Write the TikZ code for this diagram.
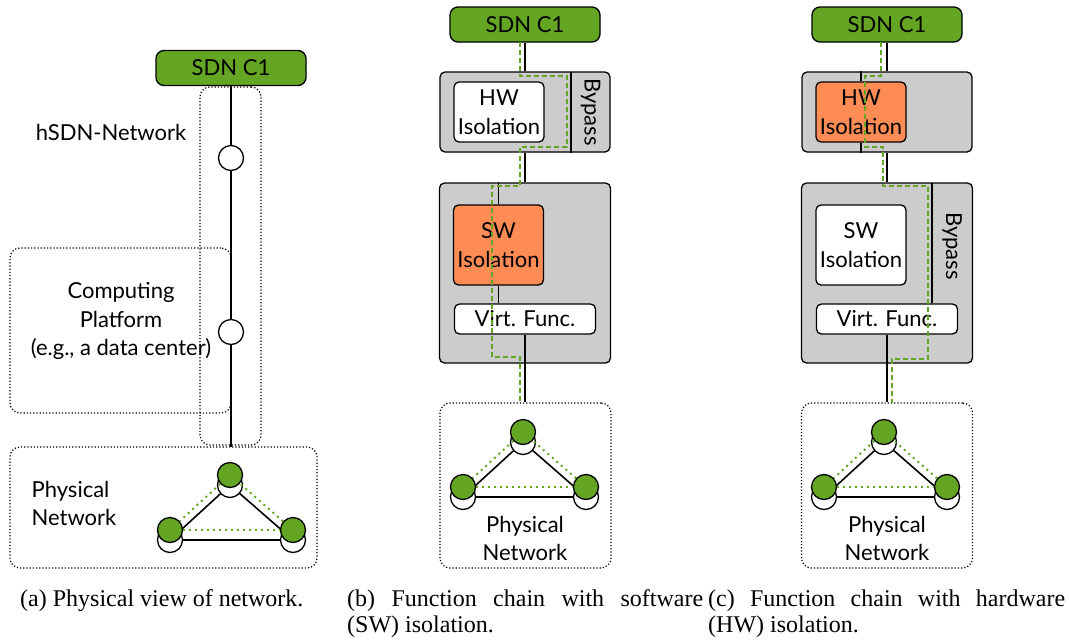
\documentclass[tikz,border=0pt]{standalone}
\usepackage{fontspec}
\setmainfont{Liberation Serif}
\newfontfamily\diafont{Lato}
\usetikzlibrary{calc}

\definecolor{sdngreen}{HTML}{64A523}
\definecolor{isoorange}{HTML}{FF8C55}
\definecolor{boxgray}{HTML}{CCCCCC}

\tikzset{
  dia/.style={font=\diafont\fontsize{22}{28.5}\selectfont},
  sdn/.style={dia, draw=black, fill=sdngreen, rounded corners=8pt, line width=1.3pt,
    minimum width=150pt, minimum height=35pt, inner sep=0pt},
  graybox/.style={draw, fill=boxgray, rounded corners=5pt, line width=1.3pt, inner sep=0pt},
  isobox/.style={dia, draw, fill=white, rounded corners=5pt, line width=1.3pt,
    align=center, inner sep=0pt},
  isohot/.style={isobox, fill=isoorange},
  dotbox/.style={draw, dotted, rounded corners=10pt, line width=1.2pt, inner sep=0pt},
  link/.style={line width=1.6pt},
  divider/.style={line width=1.3pt},
  sdnroute/.style={draw=sdngreen, dash pattern=on 5pt off 3pt, line width=1.8pt},
  vlink/.style={draw=sdngreen, dash pattern=on 2pt off 4pt, line width=2pt},
  sw/.style={circle, draw, fill=white, line width=1.3pt, minimum size=25pt, inner sep=0pt},
  gsw/.style={sw, fill=sdngreen},
  lbl/.style={dia, align=center},
  captext/.style={font=\fontsize{24}{26}\selectfont, inner sep=0pt},
  pics/physnet/.style={code={
    % physical switches and their links
    \node[sw] (-tw) at (0,10) {};
    \node[sw] (-lw) at (-60,65) {};
    \node[sw] (-rw) at (63,65) {};
    \draw[link] (-tw) -- (-lw) -- (-rw) -- (-tw);
    % virtual SDN overlay on top
    \node[gsw] (-tg) at (0,0) {};
    \node[gsw] (-lg) at (-60,55) {};
    \node[gsw] (-rg) at (63,55) {};
    \draw[vlink] (-tg) -- (-lg);
    \draw[vlink] (-lg) -- (-rg);
    \draw[vlink] (-rg) -- (-tg);
  }}
}

\begin{document}
\begin{tikzpicture}[x=1pt,y=-1pt]
\useasboundingbox (0,0) rectangle (1069,641);

% ---------------- (a) physical view ----------------
\node[dotbox, minimum width=61pt, minimum height=358pt] (a-hsdn) at (230.5,266) {};
\node[dotbox, minimum width=221pt, minimum height=165pt] (a-dc) at (120.5,330.5) {};
\node[dotbox, minimum width=307pt, minimum height=121pt] (a-phys) at (163.5,507.5) {};
\node[sdn] (a-sdn) at (231,68) {SDN C1};
\node[sw] (a-s1) at (231,158) {};
\node[sw] (a-s2) at (231,332) {};
\coordinate (a-end) at (231,447);
\draw[link] (a-sdn) -- (a-s1) -- (a-s2) -- (a-end);
\node[lbl] (a-hsdn-l) at (111,132) {hSDN-Network};
\node[lbl] (a-dc-l) at (121,321) {Computing\\Platform\\(e.g., a data center)};
\node[dia, align=left] (a-phys-l) at (74,503.5) {Physical\\Network};
\pic (a-net) at (230,475) {physnet};

% ---------------- (b) software isolation ----------------
\node[sdn] (b-sdn) at (525,24.5) {SDN C1};
\node[graybox, minimum width=170pt, minimum height=80pt] (b-hwbox) at (525,112) {};
\coordinate (b-byp) at (571,72);
\draw[divider] (b-byp) -- (b-byp |- b-hwbox.south);
\node[dia, rotate=-90] (b-byp-l) at (590.5,112) {Bypass};
\node[isobox, minimum width=90pt, minimum height=60pt] (b-hw) at (499,112) {HW\\Isolation};
\node[graybox, minimum width=171pt, minimum height=180pt] (b-swbox) at (525,273) {};
\node[isohot, minimum width=90pt, minimum height=80pt] (b-sw) at (498.5,245) {SW\\Isolation};
\node[isobox, minimum width=141pt, minimum height=30pt] (b-vf) at (525,319) {Virt. Func.};
\node[dotbox, minimum width=171pt, minimum height=165pt] (b-phys) at (525.5,485.5) {};
\draw[link] (b-sdn) -- (b-hwbox);
\draw[link] (b-hwbox) -- (b-swbox);
\draw[link] (b-sw.north) -- (b-sw.north |- b-swbox.north);
\draw[link] (b-sw.south) -- (b-sw.south |- b-vf.north);
\draw[link] (b-vf.south) -- (b-vf.south |- b-phys.north);
\draw[sdnroute] (520,42) -- (520,76) -- (567,76) -- (567,147) -- (520,147)
  -- (520,186) -- (492,186) -- (492,357) -- (520,357) -- (520,403);
\pic (b-net) at (523,432) {physnet};
\node[lbl] (b-phys-l) at (525,538.5) {Physical\\Network};

% ---------------- (c) hardware isolation ----------------
\node[sdn] (c-sdn) at (887,24.5) {SDN C1};
\node[graybox, minimum width=170pt, minimum height=80pt] (c-hwbox) at (887,112) {};
\node[isohot, minimum width=90pt, minimum height=60pt] (c-hw) at (861,112) {HW\\Isolation};
\node[graybox, minimum width=171pt, minimum height=180pt] (c-swbox) at (887,273) {};
\node[isobox, minimum width=90pt, minimum height=80pt] (c-sw) at (861,245) {SW\\Isolation};
\node[isobox, minimum width=141pt, minimum height=30pt] (c-vf) at (887,319) {Virt. Func.};
\coordinate (c-byp) at (932,183);
\draw[divider] (c-byp) -- (c-byp |- c-vf.north);
\node[dia, rotate=-90] (c-byp-l) at (952,246) {Bypass};
\node[dotbox, minimum width=171pt, minimum height=165pt] (c-phys) at (887,485.5) {};
\draw[link] (c-sdn) -- (c-hwbox);
\draw[link] (c-hw.north) -- (c-hw.north |- c-hwbox.north);
\draw[link] (c-hw.south) -- (c-hw.south |- c-hwbox.south);
\draw[link] (c-hwbox) -- (c-swbox);
\draw[link] (c-vf.south) -- (c-vf.south |- c-phys.north);
\draw[sdnroute] (881,42) -- (881,76) -- (865,76) -- (865,147) -- (883,147)
  -- (883,186) -- (928,186) -- (928,359) -- (892,359) -- (892,403);
\pic (c-net) at (884,432) {physnet};
\node[lbl] (c-phys-l) at (887,538.5) {Physical\\Network};

% ---------------- captions ----------------
\node[captext, anchor=base west] (cap-a) at (20,606) {(a) Physical view of network.};
\node[captext, anchor=base west, align=left] (cap-b) at (347,632)
  {\makebox[356pt][s]{(b) Function chain with software}\\(SW) isolation.};
\node[captext, anchor=base west, align=left] (cap-c) at (708,632)
  {\makebox[357pt][s]{(c) Function chain with hardware}\\(HW) isolation.};
\end{tikzpicture}
\end{document}
